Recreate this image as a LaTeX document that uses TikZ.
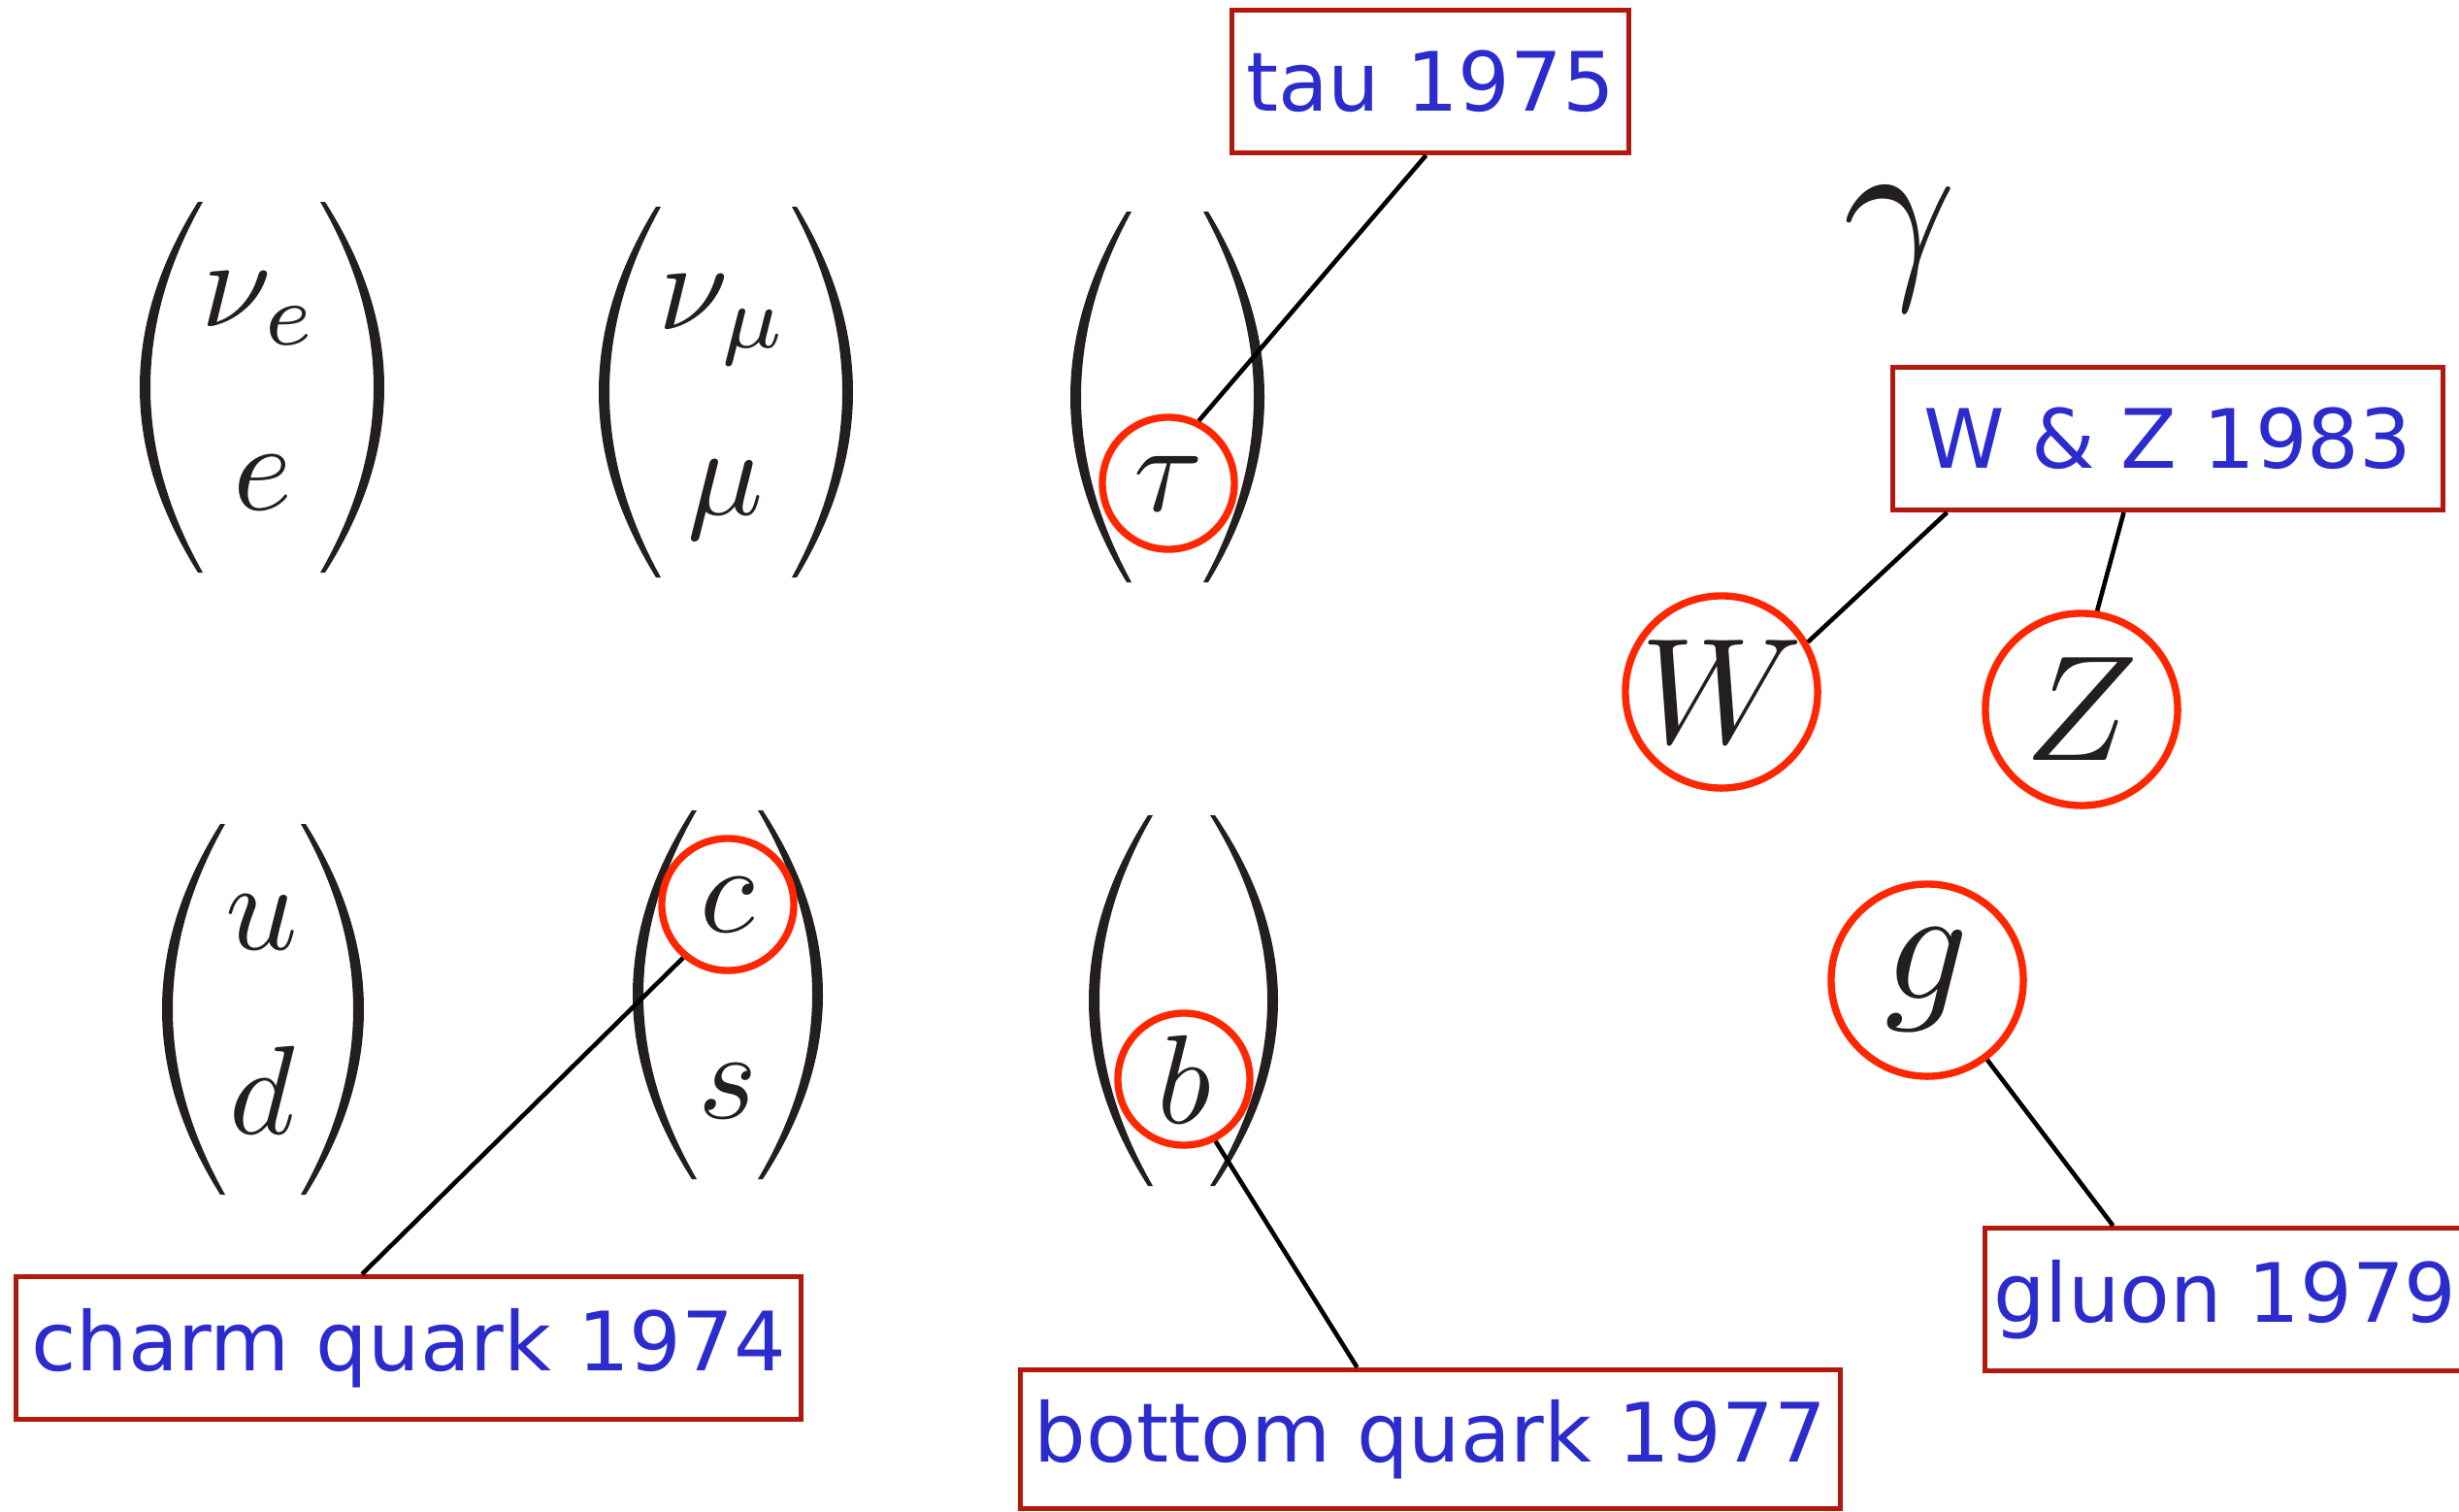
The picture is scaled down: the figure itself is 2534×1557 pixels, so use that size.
\documentclass[tikz,border=0pt]{standalone}
\usepackage{fontspec}
\setsansfont{DejaVu Sans}
\usepackage{tikz}
\usetikzlibrary{positioning}
\definecolor{boxred}{RGB}{178,24,12}
\definecolor{labelblue}{RGB}{44,44,206}
\definecolor{ringred}{RGB}{255,38,0}
\definecolor{inkc}{RGB}{35,31,32}
\newcommand{\sym}[2][3.7]{\scalebox{#1}{$#2$}}

\begin{document}
\begin{tikzpicture}[x=0.01cm, y=-0.01cm,
  labelbox/.style={draw=boxred, line width=1.4pt, text=labelblue, inner sep=0pt,
    font=\sffamily\fontsize{24}{28}\selectfont, minimum height=1.47cm},
  lett/.style={text=inkc, inner sep=0pt},
  ring/.style={circle, draw=ringred, line width=2.1pt, inner sep=0pt},
  pointer/.style={line width=1.3pt}]
  \useasboundingbox (0,0) rectangle (2534,1557);
  % brackets: end x / middle x / top / bottom
  \foreach \xe/\xm/\yt/\yb in {204/144/208/590, 335/396/208/590,
      676/617/213/595, 821/879/213/595, 1161/1103/218/600, 1245/1303/218/600,
      227/167/849/1231, 315/375/849/1231, 713/652/835/1215, 786/848/835/1215,
      1183/1122/840/1222, 1252/1317/840/1222}{
    \pgfmathsetmacro\sg{(\xe>\xm ? 1 : -1)}
    \pgfmathsetmacro\cx{\xm+(\xm-\xe)/3}
    \pgfmathsetmacro\ex{\xe+5*\sg}
    \pgfmathsetmacro\mx{\xm+11*\sg}
    \pgfmathsetmacro\ci{\mx+(\mx-\ex)/3}
    \pgfmathsetmacro\ya{\yt+(\yb-\yt)/3}
    \pgfmathsetmacro\yc{\yb-(\yb-\yt)/3}
    \fill[inkc] (\xe,\yt) .. controls (\cx,\ya) and (\cx,\yc) .. (\xe,\yb)
      -- (\ex,\yb) .. controls (\ci,\yc) and (\ci,\ya) .. (\ex,\yt) -- cycle;
  }
  % leptons
  \node[lett] (nue) at (268,318) {\sym{\nu_e}};
  \node[lett] (e) at (271,497) {\sym{e}};
  \node[lett] (numu) at (746,330) {\sym{\nu_\mu}};
  \node[lett] (mu) at (748,515) {\sym{\mu}};
  \node[lett, ring, minimum size=1.36cm] (tau) at (1204,498) {\sym{\tau}};
  % quarks
  \node[lett] (u) at (270,950) {\sym{u}};
  \node[lett] (d) at (270,1123) {\sym{d}};
  \node[lett, ring, minimum size=1.36cm] (c) at (750,932) {\sym{c}};
  \node[lett] (s) at (750,1124) {\sym{s}};
  \node[lett, ring, minimum size=1.36cm] (b) at (1220,1112) {\sym{b}};
  % bosons
  \node[lett] (gamma) at (1958,256) {\sym[5.8]{\gamma}};
  \node[lett, ring, minimum size=1.98cm] (W) at (1774,713) {\sym[4.4]{W}};
  \node[lett, ring, minimum size=1.98cm] (Z) at (2145,731) {\sym[4.4]{Z}};
  \node[lett, ring, minimum size=1.98cm] (g) at (1986,1010) {\sym[4.8]{g}};
  % discovery labels
  \node[labelbox, minimum width=4.08cm] (taubox) at (1474,84) {tau 1975};
  \node[labelbox, minimum width=5.66cm] (wzbox) at (2234,452) {W \& Z 1983};
  \node[labelbox, minimum width=8.09cm] (charmbox) at (421,1389) {charm quark 1974};
  \node[labelbox, minimum width=8.44cm, minimum height=1.43cm] (bottombox) at (1474,1483) {bottom quark 1977};
  \node[labelbox, minimum width=4.94cm] (gluonbox) at (2293,1339) {gluon 1979};
  \draw[pointer] ([xshift=2.02cm]taubox.south west) -- (tau.64);
  \draw[pointer] ([xshift=0.58cm]wzbox.south west) -- (W.30);
  \draw[pointer] ([xshift=2.40cm]wzbox.south west) -- (Z.81);
  \draw[pointer] ([xshift=1.34cm]gluonbox.north west) -- (g.-53);
  \draw[pointer] ([xshift=3.59cm]charmbox.north west) -- (c.230);
  \draw[pointer] ([xshift=3.49cm]bottombox.north west) -- (b.-63);
\end{tikzpicture}
\end{document}
